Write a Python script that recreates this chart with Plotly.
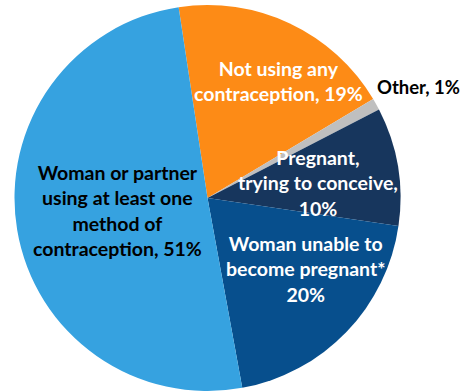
import plotly.graph_objects as go

# Share of respondents by contraception status
categories = [
    "Not using any contraception",
    "Other",
    "Pregnant, trying to conceive",
    "Woman unable to become pregnant*",
    "Woman or partner using at least one method of contraception",
]
values = [19, 1, 10, 20, 51]
colors = ["#FD8B16", "#BFBFBF", "#17365D", "#074F8D", "#36A2E0"]

# Label text (line-broken) and placement in paper coordinates
label_text = [
    "Not using any<br>contraception, 19%",
    "Other, 1%",
    "Pregnant,<br>trying to conceive,<br>10%",
    "Woman unable to<br>become pregnant*<br>20%",
    "Woman or partner<br>using at least one<br>method of<br>contraception, 51%",
]
label_x = [278, 418, 318, 305, 117]
label_y = [81, 87, 183, 269, 210]
label_color = ["white", "black", "white", "white", "black"]
label_size = [19.5, 18.5, 19.5, 19.5, 19.5]

W, H = 463, 391

fig = go.Figure(
    go.Pie(
        labels=categories,
        values=values,
        sort=False,
        direction="clockwise",
        rotation=-8.6,
        marker=dict(colors=colors, line=dict(width=0)),
        textinfo="none",
        hoverinfo="label+percent",
        domain=dict(x=[14 / W, 401 / W], y=[0, 1 - 5 / H]),
        showlegend=False,
    )
)

for t, x, y, c, s in zip(label_text, label_x, label_y, label_color, label_size):
    fig.add_annotation(
        text=f"<b>{t}</b>",
        x=x / W,
        y=1 - y / H,
        xref="paper",
        yref="paper",
        showarrow=False,
        font=dict(family="Lato", size=s, color=c),
        align="center",
        xanchor="center",
        yanchor="middle",
    )

fig.update_layout(
    width=W,
    height=H,
    autosize=False,
    margin=dict(l=0, r=0, t=0, b=0),
    paper_bgcolor="white",
    plot_bgcolor="white",
)

fig.write_html("out.html")
